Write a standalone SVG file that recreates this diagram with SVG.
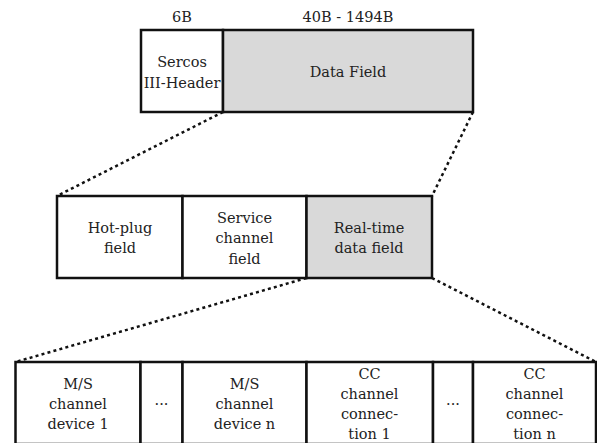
<svg xmlns="http://www.w3.org/2000/svg" width="597" height="443" viewBox="0 0 597 443">
  <style>
    .cell { fill: #ffffff; stroke: #111; stroke-width: 2.5; }
    .cell.shade { fill: #d9d9d9; }
    text { font-family: 'DejaVu Serif', serif; font-size: 14.5px; fill: #222; text-anchor: middle; }
    .zoom { fill: none; stroke: #111; stroke-width: 2.5; stroke-dasharray: 3 3.2; }
  </style>

  <!-- size annotations above the frame -->
  <text x="182" y="22">6B</text>
  <text x="348" y="22">40B - 1494B</text>

  <!-- frame: header + data field -->
  <g id="sercos-header">
    <rect class="cell" x="141" y="30" width="82" height="82"/>
    <text x="182" y="66.5">Sercos</text>
    <text x="182" y="87.5">III-Header</text>
  </g>
  <g id="data-field">
    <rect class="cell shade" x="223" y="30" width="250" height="82"/>
    <text x="348" y="76.5">Data Field</text>
  </g>

  <!-- data field breakdown -->
  <g id="hot-plug-field">
    <rect class="cell" x="57" y="196" width="125.5" height="82"/>
    <text x="120" y="233">Hot-plug</text>
    <text x="120" y="253">field</text>
  </g>
  <g id="service-channel-field">
    <rect class="cell" x="182.5" y="196" width="124" height="82"/>
    <text x="244.5" y="222.5">Service</text>
    <text x="244.5" y="243">channel</text>
    <text x="244.5" y="263.5">field</text>
  </g>
  <g id="real-time-data-field">
    <rect class="cell shade" x="306.5" y="196" width="125.5" height="82"/>
    <text x="369" y="233">Real-time</text>
    <text x="369" y="253">data field</text>
  </g>

  <!-- real-time data field breakdown -->
  <g id="ms-channel-1">
    <rect class="cell" x="15.5" y="362" width="125" height="82"/>
    <text x="78" y="389">M/S</text>
    <text x="78" y="409">channel</text>
    <text x="78" y="429">device 1</text>
  </g>
  <g id="ms-ellipsis">
    <rect class="cell" x="140.5" y="362" width="42" height="82"/>
    <text x="161.5" y="405">...</text>
  </g>
  <g id="ms-channel-n">
    <rect class="cell" x="182.5" y="362" width="124" height="82"/>
    <text x="244.5" y="389">M/S</text>
    <text x="244.5" y="409">channel</text>
    <text x="244.5" y="429">device n</text>
  </g>
  <g id="cc-channel-1">
    <rect class="cell" x="306.5" y="362" width="126.5" height="82"/>
    <text x="369.5" y="379">CC</text>
    <text x="369.5" y="399">channel</text>
    <text x="369.5" y="419">connec-</text>
    <text x="369.5" y="439">tion 1</text>
  </g>
  <g id="cc-ellipsis">
    <rect class="cell" x="433" y="362" width="40" height="82"/>
    <text x="453" y="405">...</text>
  </g>
  <g id="cc-channel-n">
    <rect class="cell" x="473" y="362" width="123" height="82"/>
    <text x="534.5" y="379">CC</text>
    <text x="534.5" y="399">channel</text>
    <text x="534.5" y="419">connec-</text>
    <text x="534.5" y="439">tion n</text>
  </g>

  <!-- dotted expansion lines -->
  <g id="connectors">
    <line class="zoom" x1="223" y1="112" x2="57" y2="196"/>
    <line class="zoom" x1="473" y1="112" x2="432" y2="196"/>
    <line class="zoom" x1="306.5" y1="278" x2="15.5" y2="362"/>
    <line class="zoom" x1="432" y1="278" x2="596" y2="362"/>
  </g>
</svg>
